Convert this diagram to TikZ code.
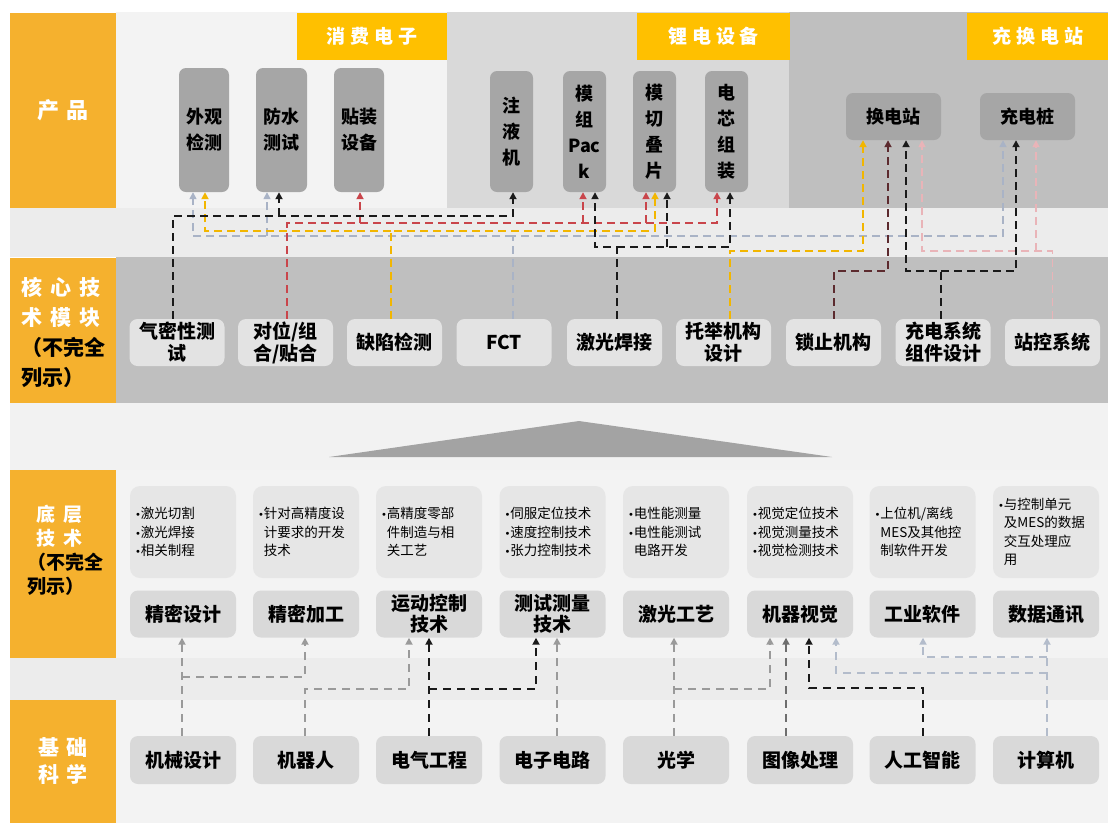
\documentclass[tikz,border=0pt]{standalone}
\usepackage{fontspec}
\setmainfont{Noto Sans CJK SC}
\newfontfamily\dejavu{DejaVu Sans}
\usetikzlibrary{arrows.meta,calc}
\definecolor{orng}{HTML}{F5B12E}
\definecolor{ylab}{HTML}{FFC000}
\definecolor{bgA}{HTML}{F3F3F3}
\definecolor{bgB}{HTML}{D9D9D9}
\definecolor{bgC}{HTML}{BFBFBF}
\definecolor{bandc}{HTML}{ECECEC}
\definecolor{prodc}{HTML}{A6A6A6}
\definecolor{modc}{HTML}{E3E3E3}
\definecolor{descc}{HTML}{E6E6E6}
\definecolor{labc}{HTML}{D9D9D9}
\definecolor{lk}{HTML}{1A1A1A}
\definecolor{lr}{HTML}{C9454B}
\definecolor{ly}{HTML}{F2B600}
\definecolor{lg}{HTML}{A9B3C6}
\definecolor{lbr}{HTML}{5C2A2E}
\definecolor{lp}{HTML}{E9B4B8}
\definecolor{lgr}{HTML}{9A9A9A}
\definecolor{ldg}{HTML}{6E6E6E}
\definecolor{lbg}{HTML}{B3BCCB}
\definecolor{trc}{HTML}{A3A3A3}
\newcommand\gp{\hspace{8pt}}
\newcommand\tg{\hspace{5pt}}
\newcommand\bul{{\dejavu\fontsize{10}{10}\selectfont •}}
\begin{document}
\begin{tikzpicture}[x=1pt,y=-1pt,
  conn/.style={dash pattern=on 8pt off 5pt, -{Triangle[width=7pt,length=7pt]}},
  lnk/.style={conn, draw=lk, line width=2.2pt},
  lnr/.style={conn, draw=lr, line width=2pt},
  lny/.style={conn, draw=ly, line width=2pt},
  lng/.style={conn, draw=lg, line width=1.6pt},
  lnbr/.style={conn, draw=lbr, line width=2pt},
  lnp/.style={conn, draw=lp, line width=1.6pt},
  bconn/.style={dash pattern=on 8pt off 6pt, -{Triangle[width=7pt,length=7pt]}},
  lngr/.style={bconn, draw=lgr, line width=1.8pt},
  lnbk/.style={bconn, draw=lk, line width=2.4pt},
  lndg/.style={bconn, draw=ldg, line width=2pt},
  lnbg/.style={bconn, draw=lbg, line width=1.8pt},
  prodbox/.style={fill=prodc, rounded corners=7pt, inner sep=0pt, align=center,
    font=\fontsize{18}{26}\selectfont\bfseries},
  modbox/.style={fill=modc, rounded corners=8pt, inner sep=0pt, align=center,
    minimum width=95pt, minimum height=47pt, font=\fontsize{19}{22}\selectfont\bfseries},
  descbox/.style={fill=descc, rounded corners=10pt, inner sep=5pt, align=left,
    text width=96pt, minimum height=92pt, font=\fontsize{13.5}{18.5}\selectfont},
  labbox/.style={fill=labc, rounded corners=8pt, inner sep=0pt, align=center,
    minimum width=106pt, minimum height=47pt, font=\fontsize{19}{21}\selectfont\bfseries},
  basebox/.style={fill=labc, rounded corners=8pt, inner sep=0pt, align=center,
    minimum width=106pt, minimum height=48pt, font=\fontsize{19}{21}\selectfont\bfseries},
  orgbox/.style={fill=orng, inner sep=0pt, minimum width=106pt},
  otext/.style={inner sep=0pt, text=white, align=left, font=\fontsize{21}{30}\selectfont\bfseries},
  ylwbox/.style={fill=ylab, inner sep=0pt, minimum height=47pt, text=white,
    font=\fontsize{19}{22}\selectfont\bfseries}
]
\useasboundingbox (0,0) rectangle (1108,823);
\fill[white] (0,0) rectangle (1108,823);
% backgrounds
\fill[bgA] (116,12) rectangle (447,208);
\fill[bgB] (447,12) rectangle (789,208);
\fill[bgC] (789,12) rectangle (1108,208);
\fill[bandc] (10,208) rectangle (1108,257);
\fill[bgC] (116,257) rectangle (1108,403);
\fill[bandc!70!white] (10,403) rectangle (1108,470);
\fill[bgA] (116,470) rectangle (1108,823);
\fill[bandc] (10,658) rectangle (1108,700);
\fill[trc] (329,457) -- (579,421) -- (832,457) -- cycle;

% orange row labels
\node[orgbox, minimum height=195pt, text=white, font=\fontsize{22}{28}\selectfont\bfseries] (o1) at (63,110.5) {产\gp 品};
\node[orgbox, minimum height=145pt] (o2) at (63,330.5) {};
\node[otext, anchor=west] (o2t) at (21,332) {核\gp 心\gp 技\\术\gp 模\gp 块\\{\color{black}（不完全}\\{\color{black}列示）}};
\node[orgbox, minimum height=188pt] (o3) at (63,564) {};
\node[otext, anchor=west, font=\fontsize{19}{24}\selectfont\bfseries] (o3t) at (27,550) {\hspace{9pt}底\gp 层\\\hspace{9pt}技\gp 术\\{\color{black}（不完全}\\{\color{black}列示）}};
\node[orgbox, minimum height=123pt, text=white, align=center, font=\fontsize{21}{27}\selectfont\bfseries] (o4) at (63,761.5) {基\gp 础\\科\gp 学};

% section titles
\node[ylwbox, minimum width=150pt] (t1) at (372,36.5) {消\tg 费\tg 电\tg 子};
\node[ylwbox, minimum width=153pt] (t2) at (713.5,36.5) {锂\tg 电\tg 设\tg 备};
\node[ylwbox, minimum width=141pt] (t3) at (1037.5,36.5) {充\tg 换\tg 电\tg 站};

% products
\node[prodbox, minimum width=50pt, minimum height=124pt] (p1) at (204,130) {外观\\检测};
\node[prodbox, minimum width=51pt, minimum height=124pt] (p2) at (281.5,130) {防水\\测试};
\node[prodbox, minimum width=50pt, minimum height=124pt] (p3) at (359,130) {贴装\\设备};
\node[prodbox, minimum width=43pt, minimum height=121pt] (p4) at (511.5,131.5) {注\\液\\机};
\node[prodbox, minimum width=43pt, minimum height=121pt] (p5) at (584.5,131.5) {模\\组\\Pac\\k};
\node[prodbox, minimum width=43pt, minimum height=121pt] (p6) at (654.5,131.5) {模\\切\\叠\\片};
\node[prodbox, minimum width=43pt, minimum height=121pt] (p7) at (726.5,131.5) {电\\芯\\组\\装};
\node[prodbox, minimum width=95pt, minimum height=47pt] (p8) at (893.5,116.5) {换电站};
\node[prodbox, minimum width=95pt, minimum height=47pt] (p9) at (1027.5,116.5) {充电桩};

% core modules
\node[modbox] (m1) at (177,342.5) {气密性测\\试};
\node[modbox] (m2) at (285.5,342.5) {对位/组\\合/贴合};
\node[modbox] (m3) at (394.5,342.5) {缺陷检测};
\node[modbox] (m4) at (504,342.5) {FCT};
\node[modbox] (m5) at (614.5,342.5) {激光焊接};
\node[modbox] (m6) at (723.5,342.5) {托举机构\\设计};
\node[modbox] (m7) at (833.5,342.5) {锁止机构};
\node[modbox] (m8) at (943,342.5) {充电系统\\组件设计};
\node[modbox] (m9) at (1052.5,342.5) {站控系统};

% descriptions
\node[descbox] (d1) at (183,532) {\bul 激光切割\\\bul 激光焊接\\\bul 相关制程};
\node[descbox] (d2) at (306,532) {\bul 针对高精度设\\\phantom{\bul}计要求的开发\\\phantom{\bul}技术};
\node[descbox] (d3) at (429,532) {\bul 高精度零部\\\phantom{\bul}件制造与相\\\phantom{\bul}关工艺};
\node[descbox] (d4) at (552.5,532) {\bul 伺服定位技术\\\bul 速度控制技术\\\bul 张力控制技术};
\node[descbox] (d5) at (676,532) {\bul 电性能测量\\\bul 电性能测试\\\phantom{\bul}电路开发};
\node[descbox] (d6) at (800,532) {\bul 视觉定位技术\\\bul 视觉测量技术\\\bul 视觉检测技术};
\node[descbox] (d7) at (922.5,532) {\bul 上位机/离线\\\phantom{\bul}MES及其他控\\\phantom{\bul}制软件开发};
\node[descbox] (d8) at (1046,532) {\bul 与控制单元\\\phantom{\bul}及MES的数据\\\phantom{\bul}交互处理应\\\phantom{\bul}用};

% base technology labels
\node[labbox] (l1) at (183,614) {精密设计};
\node[labbox] (l2) at (306,614) {精密加工};
\node[labbox] (l3) at (429,614) {运动控制\\技术};
\node[labbox] (l4) at (552.5,614) {测试测量\\技术};
\node[labbox] (l5) at (676,614) {激光工艺};
\node[labbox] (l6) at (800,614) {机器视觉};
\node[labbox] (l7) at (922.5,614) {工业软件};
\node[labbox] (l8) at (1046,614) {数据通讯};

% basic sciences
\node[basebox] (b1) at (183,760) {机械设计};
\node[basebox] (b2) at (306,760) {机器人};
\node[basebox] (b3) at (429,760) {电气工程};
\node[basebox] (b4) at (552.5,760) {电子电路};
\node[basebox] (b5) at (676,760) {光学};
\node[basebox] (b6) at (800,760) {图像处理};
\node[basebox] (b7) at (922.5,760) {人工智能};
\node[basebox] (b8) at (1046,760) {计算机};

% ---- top connector end points
\coordinate (m1s) at ($(m1.north)+(-4,0)$);
\coordinate (m2s) at ($(m2.north)+(1.5,0)$);
\coordinate (m3s) at ($(m3.north)+(-3.5,0)$);
\coordinate (m4s) at ($(m4.north)+(9,0)$);
\coordinate (m5s) at ($(m5.north)+(2.5,0)$);
\coordinate (m6s) at ($(m6.north)+(6.5,0)$);
\coordinate (m7s) at ($(m7.north)+(0.5,0)$);
\coordinate (m8s) at ($(m8.north)+(-2,0)$);
\coordinate (m9s) at ($(m9.north)+(0,0)$);
\coordinate (p1g) at ($(p1.south)+(-11,0)$);
\coordinate (p1y) at ($(p1.south)+(1,0)$);
\coordinate (p2g) at ($(p2.south)+(-14.5,0)$);
\coordinate (p2k) at ($(p2.south)+(-2.5,0)$);
\coordinate (p3r) at ($(p3.south)+(1,0)$);
\coordinate (p4k) at ($(p4.south)+(1.5,0)$);
\coordinate (p5r) at ($(p5.south)+(-1.5,0)$);
\coordinate (p5k) at ($(p5.south)+(10.5,0)$);
\coordinate (p6r) at ($(p6.south)+(-8.5,0)$);
\coordinate (p6y) at ($(p6.south)+(0.5,0)$);
\coordinate (p6k) at ($(p6.south)+(12.5,0)$);
\coordinate (p7r) at ($(p7.south)+(-9.5,0)$);
\coordinate (p7k) at ($(p7.south)+(3.5,0)$);
\coordinate (p8y) at ($(p8.south)+(-30.5,0)$);
\coordinate (p8br) at ($(p8.south)+(-5.5,0)$);
\coordinate (p8k) at ($(p8.south)+(12.5,0)$);
\coordinate (p8p) at ($(p8.south)+(28.5,0)$);
\coordinate (p9g) at ($(p9.south)+(-24.5,0)$);
\coordinate (p9k) at ($(p9.south)+(-11.5,0)$);
\coordinate (p9p) at ($(p9.south)+(8.5,0)$);

% ---- top connectors
\draw[lnp] (m9s) |- (p8p |- 0,251) -- (p8p);
\draw[lnp] (p9p |- 0,251) -- (p9p);
\draw[lng] (m4s) |- (p9g |- 0,236) -- (p9g);
\draw[lng] (m4s |- 0,236) -| (p1g);
\draw[lng] (p2g |- 0,236) -- (p2g);
\draw[lny] (m3s) |- (p6y |- 0,231) -- (p6y);
\draw[lny] (m3s |- 0,231) -| (p1y);
\draw[lny] (m6s) |- (p8y |- 0,251) -- (p8y);
\draw[lnr] (m2s) |- (p7r |- 0,223) -- (p7r);
\draw[lnr] (p3r |- 0,223) -- (p3r);
\draw[lnr] (p5r |- 0,223) -- (p5r);
\draw[lnr] (p6r |- 0,223) -- (p6r);
\draw[lnbr] (m7s) |- (p8br |- 0,271) -- (p8br);
\draw[lnk] (m1s) |- (p4k |- 0,216) -- (p4k);
\draw[lnk] (p2k |- 0,216) -- (p2k);
\draw[lnk] (m5s) |- (p5k |- 0,247) -- (p5k);
\draw[lnk] (m5s |- 0,247) -| (p7k);
\draw[lnk] (p6k |- 0,247) -- (p6k);
\draw[lnk] (m8s) |- (p8k |- 0,271) -- (p8k);
\draw[lnk] (m8s |- 0,271) -| (p9k);

% ---- bottom connector end points
\coordinate (b1s) at ($(b1.north)+(-1,0)$);
\coordinate (l1a) at ($(l1.south)+(-1,0)$);
\coordinate (b2s) at ($(b2.north)+(-1,0)$);
\coordinate (l2a) at ($(l2.south)+(-1,0)$);
\coordinate (l3g) at ($(l3.south)+(-20,0)$);
\coordinate (l3k) at ($(l3.south)+(0,0)$);
\coordinate (b3s) at ($(b3.north)+(0,0)$);
\coordinate (l4k) at ($(l4.south)+(-16.5,0)$);
\coordinate (l4g) at ($(l4.south)+(4.5,0)$);
\coordinate (b4s) at ($(b4.north)+(4.5,0)$);
\coordinate (b5s) at ($(b5.north)+(-2,0)$);
\coordinate (l5a) at ($(l5.south)+(-2,0)$);
\coordinate (l6g) at ($(l6.south)+(-30,0)$);
\coordinate (l6d) at ($(l6.south)+(-14,0)$);
\coordinate (b6s) at ($(b6.north)+(-14,0)$);
\coordinate (l6k) at ($(l6.south)+(9,0)$);
\coordinate (l6b) at ($(l6.south)+(36,0)$);
\coordinate (b7s) at ($(b7.north)+(0.5,0)$);
\coordinate (l7a) at ($(l7.south)+(0.5,0)$);
\coordinate (b8s) at ($(b8.north)+(1,0)$);
\coordinate (l8a) at ($(l8.south)+(1,0)$);

% ---- bottom connectors
\draw[lngr] (b1s) -- (l1a);
\draw[lngr] (b1s |- 0,677) -| (l2a);
\draw[lngr] (b2s) |- (l3g |- 0,689) -- (l3g);
\draw[lngr] (b4s) -- (l4g);
\draw[lngr] (b5s) -- (l5a);
\draw[lngr] (b5s |- 0,689) -| (l6g);
\draw[lndg] (b6s) -- (l6d);
\draw[lnbg] (b8s) -- (l8a);
\draw[lnbg] (b8s |- 0,657) -| (l7a);
\draw[lnbg] (b8s |- 0,673) -| (l6b);
\draw[lnbk] (b3s) -- (l3k);
\draw[lnbk] (b3s |- 0,689) -| (l4k);
\draw[lnbk] (b7s) |- (l6k |- 0,688) -- (l6k);
\end{tikzpicture}
\end{document}
